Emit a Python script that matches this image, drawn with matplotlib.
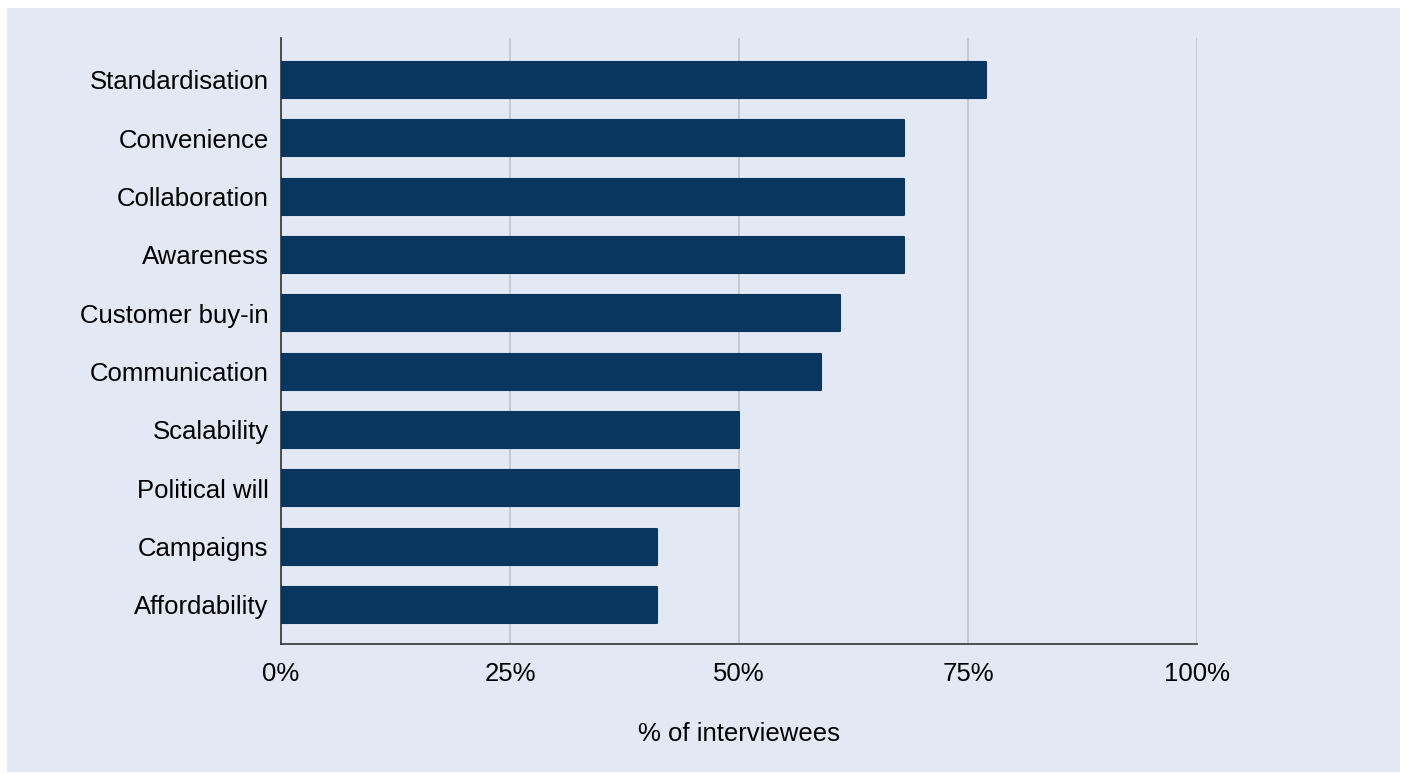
import matplotlib.pyplot as plt
from matplotlib.patches import Rectangle
from matplotlib.ticker import PercentFormatter

plt.rcParams['font.family'] = ['Liberation Sans', 'DejaVu Sans']

# Data
categories = ['Standardisation', 'Convenience', 'Collaboration', 'Awareness',
              'Customer buy-in', 'Communication', 'Scalability', 'Political will',
              'Campaigns', 'Affordability']
values = [77, 68, 68, 68, 61, 59, 50, 50, 41, 41]
x_ticks = [0, 25, 50, 75, 100]

bg = '#e2e9f4'
bar_color = '#08365f'

fig = plt.figure(figsize=(14.07, 7.73), dpi=100)
fig.patch.set_facecolor('white')
fig.patches.append(Rectangle((7 / 1407, 1 / 773), 1393 / 1407, 764 / 773,
                             transform=fig.transFigure, facecolor=bg,
                             edgecolor='none', zorder=-10))

ax = fig.add_axes([281 / 1407, 129 / 773, 916 / 1407, 606 / 773])
ax.set_facecolor(bg)

ypos = list(range(len(categories)))
ax.barh(ypos, values, height=0.62, color=bar_color, edgecolor=bar_color,
        linewidth=1.5, joinstyle='round', zorder=3)

ax.set_xlim(0, 100)
ax.set_ylim(9.67, -0.72)
ax.set_yticks(ypos)
ax.set_yticklabels(categories)
ax.set_xticks(x_ticks)
ax.xaxis.set_major_formatter(PercentFormatter(decimals=0))
ax.tick_params(axis='both', length=0, labelsize=18.5, colors='black')
ax.tick_params(axis='x', pad=13)
ax.tick_params(axis='y', pad=9)

ax.grid(axis='x', color='#c3c7cc', linewidth=1.3, zorder=0)
ax.set_axisbelow(True)
for side in ['top', 'right']:
    ax.spines[side].set_visible(False)
for side in ['left', 'bottom']:
    ax.spines[side].set_color('#333333')
    ax.spines[side].set_linewidth(1.2)

ax.set_xlabel('% of interviewees', fontsize=18.5, labelpad=26)

fig.savefig('out.png', dpi=100, facecolor=fig.get_facecolor())
